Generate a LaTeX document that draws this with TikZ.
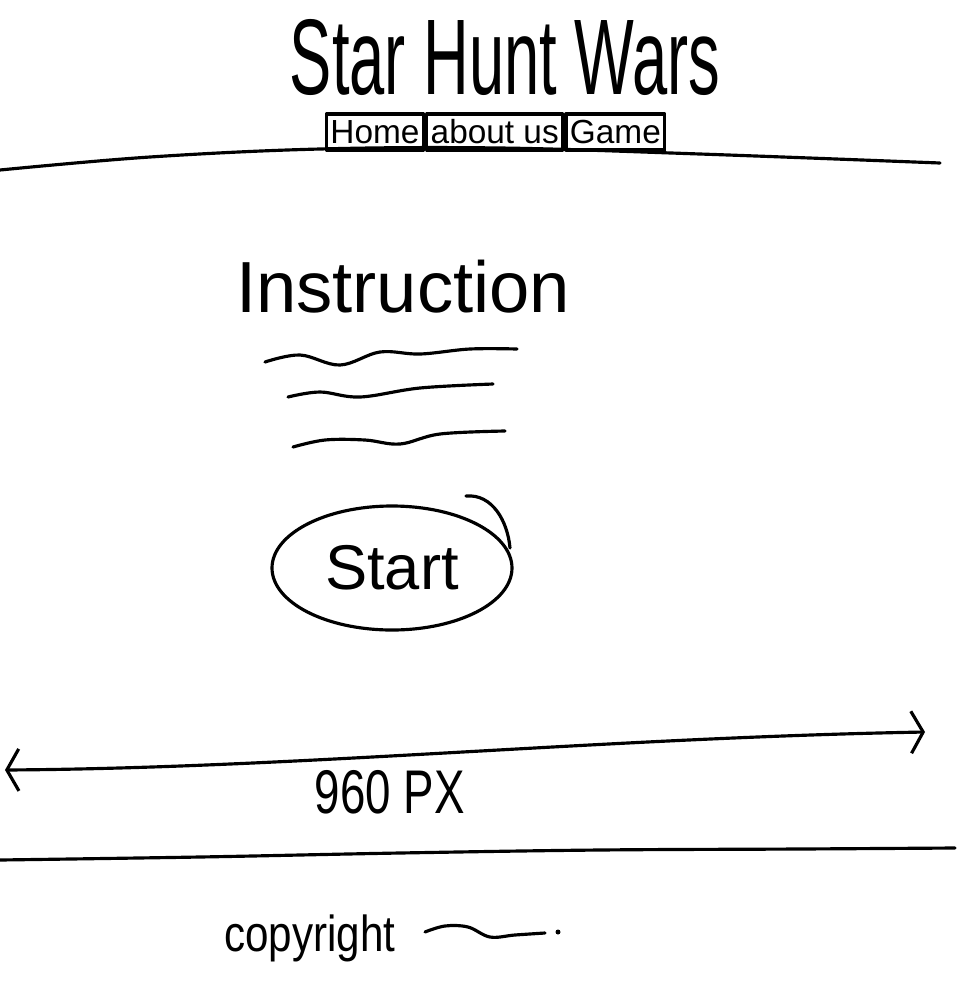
\documentclass[tikz,border=0pt]{standalone}
\usepackage{fontspec}
\setmainfont{Liberation Sans}
\usetikzlibrary{arrows.meta}
\usetikzlibrary{shapes.geometric}
\usetikzlibrary{positioning}

\begin{document}
\begin{tikzpicture}[x=0.1mm, y=-0.1mm, line width=0.9pt, line cap=round, line join=round,
    trait/.style={smooth, tension=0.6},
    onglet/.style={draw, minimum height=3.6mm, inner xsep=0.4mm, inner ysep=0pt, font=\fontsize{9.5}{9.5}\selectfont},
    pointe/.tip={Straight Barb[length=1.2mm, width=4.2mm]}]
\useasboundingbox (0,0) rectangle (960,1000);
% en-tete
\node[inner sep=0pt, font=\fontsize{18}{18}\selectfont, yscale=1.7] (titre) at (505,57) {Star Hunt Wars};
\node[onglet] (accueil) at (375,132) {Home};
\node[onglet, right=0pt of accueil] (apropos) {about us};
\node[onglet, right=0pt of apropos] (jeu) {Game};
\draw[trait] plot coordinates {(0,170) (150,157) (320,149) (500,148) (700,154) (940,163)};
% contenu
\node[font=\fontsize{20.6}{20.6}\selectfont] (consigne) at (403,287) {Instruction};
\draw[trait] plot coordinates {(265,362) (300,355) (340,365) (380,352) (420,354) (470,349) (517,349)};
\draw[trait] plot coordinates {(288,397) (320,392) (360,397) (420,388) (493,384)};
\draw[trait] plot coordinates {(293,447) (325,440) (365,440) (400,444) (440,434) (505,431)};
\node[draw, ellipse, minimum width=24mm, minimum height=12.4mm, font=\fontsize{18}{18}\selectfont] (depart) at (392,568) {Start};
\draw (466,496) to[out=5, in=95] (510,548);
% largeur
\coordinate (gauche) at (5,770);
\coordinate (droite) at (925,732);
\draw[pointe-pointe] (gauche) .. controls (300,768) and (600,738) .. (droite)
    node[pos=0.43, below=-1pt, font=\fontsize{13}{13}\selectfont, yscale=1.35] (largeur) {960 PX};
% pied de page
\draw[trait] plot coordinates {(0,860) (200,857) (400,853) (600,850) (800,849) (955,848)};
\node[font=\fontsize{12}{12}\selectfont, yscale=1.2] (droits) at (310,938) {copyright};
\draw[trait] plot coordinates {(425,932) (445,926) (468,927) (490,937) (515,935) (545,933)};
\fill (558,932) circle (2.5);
\end{tikzpicture}
\end{document}
